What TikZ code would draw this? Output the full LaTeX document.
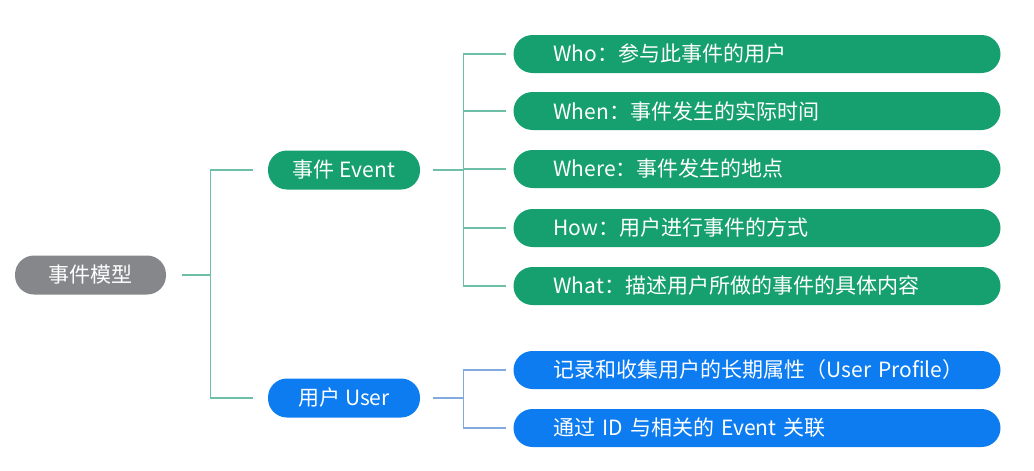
\documentclass[tikz,border=0pt]{standalone}
\usepackage{fontspec}
\setmainfont{Noto Sans CJK SC}
\definecolor{evgreen}{RGB}{22,160,112}
\definecolor{usblue}{RGB}{12,124,240}
\definecolor{rootgray}{RGB}{134,135,139}
\definecolor{evline}{RGB}{110,190,168}
\definecolor{usline}{RGB}{130,170,220}
\begin{document}
\begin{tikzpicture}[x=1pt,y=-1pt,
  pill/.style={rounded corners=19pt, minimum height=39pt, inner ysep=0pt, text=white, font=\fontsize{21}{23}\selectfont},
  mid/.style={pill, minimum width=152pt, inner xsep=0pt},
  leaf/.style={pill, minimum height=38pt, text width=407pt, inner xsep=40pt, align=left},
  evlink/.style={draw=evline, line width=1.4pt},
  uslink/.style={draw=usline, line width=1.4pt}]
\useasboundingbox (0,0) rectangle (1034,471);
% root and second level
\node[mid, fill=rootgray, minimum width=151pt] (root) at (90.5,275) {事件模型};
\node[mid, fill=evgreen] (event) at (344,170) {事件 Event};
\node[mid, fill=usblue] (user) at (344,398) {用户 User};
\draw[evlink, shorten <=16pt, shorten >=15pt] (root.east) -- ++(44,0) |- (event.west);
\draw[evlink, shorten <=16pt, shorten >=15pt] (root.east) -- ++(44,0) |- (user.west);
% event leaves
\foreach \y/\name/\txt in {54/who/{Who：参与此事件的用户}, 111/when/{When：事件发生的实际时间},
  169/where/{Where：事件发生的地点}, 228/how/{How：用户进行事件的方式},
  286/what/{What：描述用户所做的事件的具体内容}} {
  \node[leaf, fill=evgreen] (\name) at (757,\y) {\mbox{\txt}};
  \draw[evlink, shorten <=13pt, shorten >=7pt] (event.east) -- ++(43,0) |- (\name.west);
}
% user leaves
\foreach \y/\name/\txt in {370/profile/{记录和收集用户的长期属性（User Profile）}, 428/link/{通过 ID 与相关的 Event 关联}} {
  \node[leaf, fill=usblue] (\name) at (757,\y) {\mbox{\txt}};
  \draw[uslink, shorten <=13pt, shorten >=7pt] (user.east) -- ++(43,0) |- (\name.west);
}
\end{tikzpicture}
\end{document}
